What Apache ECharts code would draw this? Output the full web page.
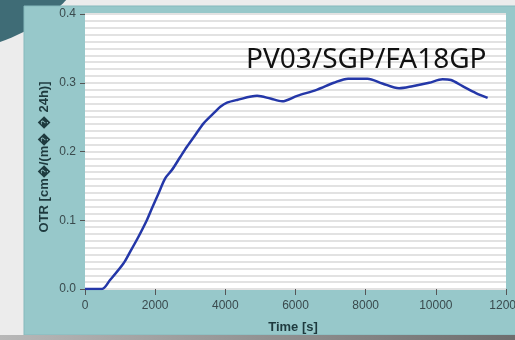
<!DOCTYPE html>
<html>
<head>
<meta charset="utf-8">
<script src="https://cdn.jsdelivr.net/npm/echarts@6/dist/echarts.min.js"></script>
<style>
html,body{margin:0;padding:0;background:#ececec;}
#c{width:515px;height:340px;}
</style>
</head>
<body>
<div id="c"></div>
<script>
// Data
var timeS = [0, 480, 714, 1095, 1286, 1524, 1762, 1905, 2095, 2286, 2476, 2714, 2905, 3143, 3381, 3714, 3857, 4048, 4333, 4905, 5286, 5619, 6048, 6619, 7095, 7500, 8050, 8476, 8952, 9333, 9810, 10190, 10430, 10762, 11143, 11476];
var otr   = [0, 0, 0.013, 0.037, 0.054, 0.076, 0.100, 0.117, 0.139, 0.161, 0.173, 0.192, 0.207, 0.224, 0.241, 0.258, 0.265, 0.271, 0.275, 0.281, 0.277, 0.273, 0.281, 0.290, 0.300, 0.306, 0.306, 0.299, 0.292, 0.295, 0.300, 0.305, 0.304, 0.295, 0.285, 0.278];
var xTicks = [0, 2000, 4000, 6000, 8000, 10000, 12000];
var yTicks = [0.0, 0.1, 0.2, 0.3, 0.4];
var sampleLabel = 'PV03/SGP/FA18GP';
var xTitle = 'Time [s]';
var yTitle = 'OTR [cm\uFFFD/(m\uFFFD \uFFFD 24h)]';

var pts = timeS.map(function (t, i) { return [t, otr[i]]; });
var chart = echarts.init(document.getElementById('c'), null, {renderer: 'canvas'});
var labelColor = '#3a4a4d';
chart.setOption({
  backgroundColor: '#ececec',
  animation: false,
  graphic: [
    {type: 'circle', z: -20, shape: {cx: -50, cy: -110, r: 160}, style: {fill: '#3f6c76'}},
    {type: 'rect', z: -15, shape: {x: 24, y: 6, width: 520, height: 329}, style: {fill: '#97c8ca', stroke: '#86b9bc', lineWidth: 1}},
    {type: 'rect', z: -15, shape: {x: 0, y: 335, width: 515, height: 5},
      style: {fill: new echarts.graphic.LinearGradient(0, 0, 1, 0, [{offset: 0, color: '#b8b8b8'}, {offset: 1, color: '#6e6e6e'}])}},
    {type: 'text', z: 10, left: 246, top: 46,
      style: {text: sampleLabel, font: '28px "Noto Sans"', fill: '#111'}},
    {type: 'text', z: 10, x: 44, y: 157, rotation: Math.PI / 2,
      style: {text: yTitle, font: 'bold 13px "Liberation Sans"', fill: '#1e3a3e', align: 'center', verticalAlign: 'middle'}},
    {type: 'text', z: 10, x: 293, y: 327,
      style: {text: xTitle, font: 'bold 13px "Liberation Sans"', fill: '#1e3a3e', align: 'center', verticalAlign: 'middle'}}
  ],
  grid: {left: 85, top: 14, right: 9, bottom: 51, show: true, backgroundColor: '#ffffff', borderWidth: 0,
    containLabel: false, outerBoundsMode: 'none'},
  xAxis: {
    type: 'value', min: xTicks[0], max: xTicks[xTicks.length - 1], interval: 2000,
    axisLine: {show: false},
    axisTick: {show: true, length: 6, lineStyle: {color: '#555'}},
    axisLabel: {margin: 11, color: labelColor, fontSize: 12, fontFamily: 'Liberation Sans', showMaxLabel: true,
      hideOverlap: false, formatter: function (v) { return String(v); }},
    splitLine: {show: false}
  },
  yAxis: {
    type: 'value', min: yTicks[0], max: yTicks[yTicks.length - 1], interval: 0.1,
    axisLine: {show: false},
    axisTick: {show: true, length: 5, lineStyle: {color: '#555'}},
    axisLabel: {margin: 9, color: labelColor, fontSize: 12, fontFamily: 'Liberation Sans',
      formatter: function (v) { return v.toFixed(1); }},
    splitLine: {show: true, lineStyle: {color: '#e2e2e2', width: 2}},
    minorTick: {show: false, splitNumber: 10},
    minorSplitLine: {show: true, lineStyle: {color: '#e2e2e2', width: 2}}
  },
  series: [{
    type: 'line', data: pts, showSymbol: false, smooth: 0.3,
    lineStyle: {color: '#2437a8', width: 2.5},
    z: 5
  }]
});
</script>
</body>
</html>
